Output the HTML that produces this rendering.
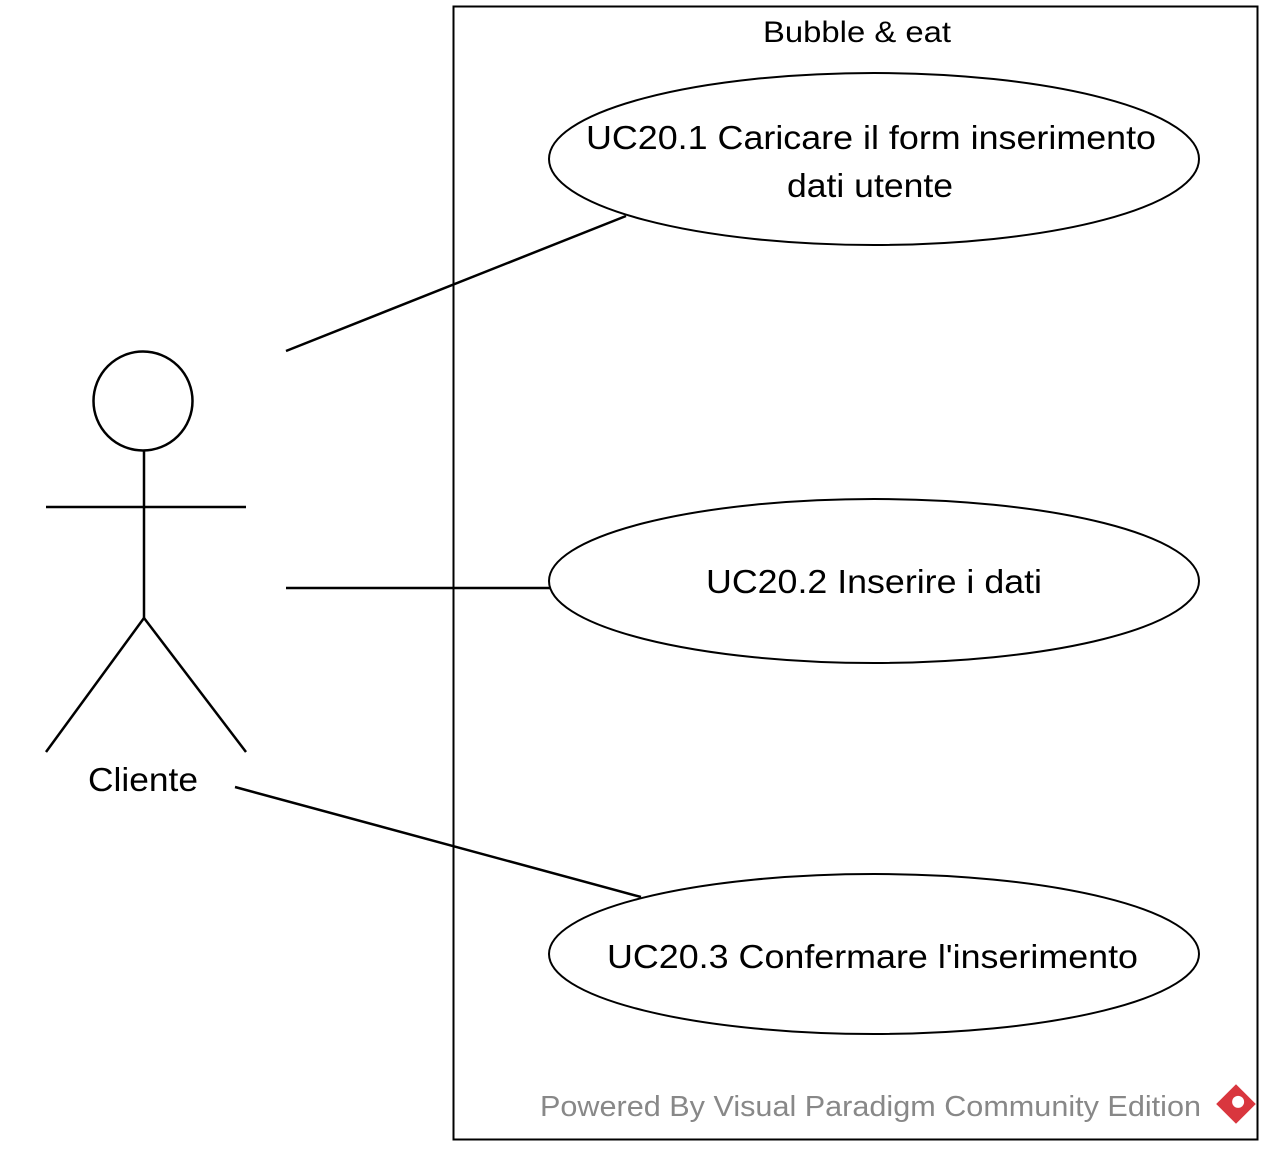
<!DOCTYPE html>
<html><head><meta charset="utf-8"><style>
html,body{margin:0;padding:0;background:#fff;}
svg{display:block;}
text{font-family:"Liberation Sans",Arial,sans-serif;}
</style></head><body>
<svg width="1272" height="1155" viewBox="0 0 1272 1155" xmlns="http://www.w3.org/2000/svg">
<rect x="453.5" y="6.5" width="804" height="1133" fill="none" stroke="#000" stroke-width="2"/>
<text x="763" y="42" font-size="30" textLength="188" lengthAdjust="spacingAndGlyphs">Bubble &amp; eat</text>
<ellipse cx="874" cy="159" rx="325" ry="86" fill="#fff" stroke="#000" stroke-width="2"/>
<text x="586" y="149" font-size="33" textLength="570" lengthAdjust="spacingAndGlyphs">UC20.1 Caricare il form inserimento</text>
<text x="787" y="197" font-size="33" textLength="166" lengthAdjust="spacingAndGlyphs">dati utente</text>
<ellipse cx="874" cy="581" rx="325" ry="82" fill="#fff" stroke="#000" stroke-width="2"/>
<text x="706" y="593" font-size="33" textLength="336" lengthAdjust="spacingAndGlyphs">UC20.2 Inserire i dati</text>
<ellipse cx="874" cy="954" rx="325" ry="80" fill="#fff" stroke="#000" stroke-width="2"/>
<text x="607" y="968" font-size="33" textLength="531" lengthAdjust="spacingAndGlyphs">UC20.3 Confermare l'inserimento</text>
<g stroke="#000" stroke-width="2.5" fill="none">
<line x1="286" y1="351" x2="626" y2="216"/>
<line x1="286" y1="588" x2="550" y2="588"/>
<line x1="235" y1="787" x2="641" y2="897"/>
<circle cx="143" cy="401" r="49.5" fill="#fff"/>
<line x1="144" y1="450" x2="144" y2="618"/>
<line x1="46" y1="507" x2="246" y2="507"/>
<line x1="144" y1="618" x2="46" y2="752"/>
<line x1="144" y1="618" x2="246" y2="752"/>
</g>
<text x="88" y="791" font-size="33" textLength="110" lengthAdjust="spacingAndGlyphs">Cliente</text>
<text x="540" y="1116" font-size="29" fill="#888" textLength="661" lengthAdjust="spacingAndGlyphs">Powered By Visual Paradigm Community Edition</text>
<g transform="translate(1236,1104) rotate(45)">
<rect x="-14" y="-14" width="28" height="28" fill="#d9363e"/>
<circle cx="0" cy="-3" r="6" fill="#fff"/>
</g>
</svg>
</body></html>
